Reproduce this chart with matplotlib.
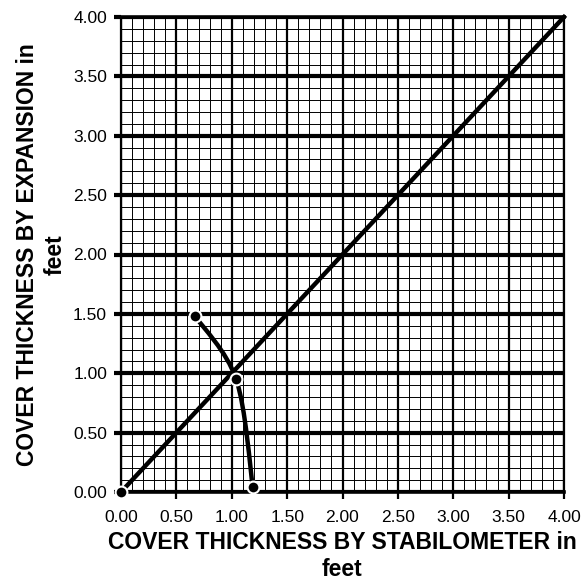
import matplotlib
matplotlib.use("Agg")
import matplotlib.pyplot as plt
import numpy as np
from matplotlib.path import Path
from matplotlib.patches import PathPatch
from matplotlib.ticker import MultipleLocator

plt.rcParams['font.family'] = ['Liberation Sans', 'DejaVu Sans']

# Data
line_x = [0.0, 4.0]
line_y = [0.0, 4.0]
curve_x = [0.67, 1.04, 1.19]
curve_y = [1.48, 0.95, 0.045]
origin_x = [0.0]
origin_y = [0.0]
tick_vals = [0.0, 0.5, 1.0, 1.5, 2.0, 2.5, 3.0, 3.5, 4.0]
tick_labels = ["0.00", "0.50", "1.00", "1.50", "2.00", "2.50", "3.00", "3.50", "4.00"]

fig = plt.figure(figsize=(5.84, 5.82), dpi=100)
ax = fig.add_axes([121/584, 1-492/582, 443/584, 475/582])
ax.set_xlim(0, 4)
ax.set_ylim(0, 4)

# grid
ax.xaxis.set_minor_locator(MultipleLocator(0.1))
ax.yaxis.set_minor_locator(MultipleLocator(0.1))
ax.grid(which='minor', axis='both', color='black', linewidth=0.7, zorder=0)
ax.grid(which='major', axis='x', color='black', linewidth=1.6, zorder=0.5)
ax.grid(which='major', axis='y', color='black', linewidth=3.0, zorder=0.5)
ax.set_axisbelow(True)

ax.set_xticks(tick_vals)
ax.set_xticklabels(tick_labels)
ax.set_yticks(tick_vals)
ax.set_yticklabels(tick_labels)
ax.tick_params(which='minor', length=0)
ax.tick_params(which='major', direction='out', length=5, width=1.6, labelsize=12.5, pad=8)
ax.tick_params(axis='y', which='major', width=3.0, pad=5)

for s in ['left', 'right']:
    ax.spines[s].set_linewidth(1.6)
for s in ['top', 'bottom']:
    ax.spines[s].set_linewidth(2.6)

# diagonal line
ax.plot(line_x, line_y, color='black', linewidth=3.2, zorder=3, clip_on=False)

# smooth curve through points (Bezier, Catmull-Rom style)
pts = np.column_stack([curve_x, curve_y])
n = len(pts)
verts = [tuple(pts[0])]
codes = [Path.MOVETO]
for i in range(n - 1):
    p0 = pts[i - 1] if i > 0 else pts[i]
    p1 = pts[i]
    p2 = pts[i + 1]
    p3 = pts[i + 2] if i + 2 < n else pts[i + 1]
    c1 = p1 + (p2 - p0) / 6.0
    c2 = p2 - (p3 - p1) / 6.0
    verts += [tuple(c1), tuple(c2), tuple(p2)]
    codes += [Path.CURVE4, Path.CURVE4, Path.CURVE4]
patch = PathPatch(Path(verts, codes), facecolor='none', edgecolor='black',
                  linewidth=3.2, zorder=3, capstyle='round')
ax.add_patch(patch)

ax.plot(curve_x, curve_y, linestyle='none', marker='o', markersize=8.5,
        markerfacecolor='black', markeredgecolor='white', markeredgewidth=1.5,
        zorder=4, clip_on=False)
ax.plot(origin_x, origin_y, linestyle='none', marker='o', markersize=8.5,
        markerfacecolor='black', markeredgecolor='white', markeredgewidth=1.5,
        zorder=4, clip_on=False)

ax.set_xlabel("COVER THICKNESS BY STABILOMETER in\nfeet", fontsize=16.5,
              fontweight='bold', labelpad=4, linespacing=1.25)
ax.set_ylabel("COVER THICKNESS BY EXPANSION in\nfeet", fontsize=16.5,
              fontweight='bold', labelpad=5, linespacing=1.25)

fig.savefig("out.png", dpi=100)
